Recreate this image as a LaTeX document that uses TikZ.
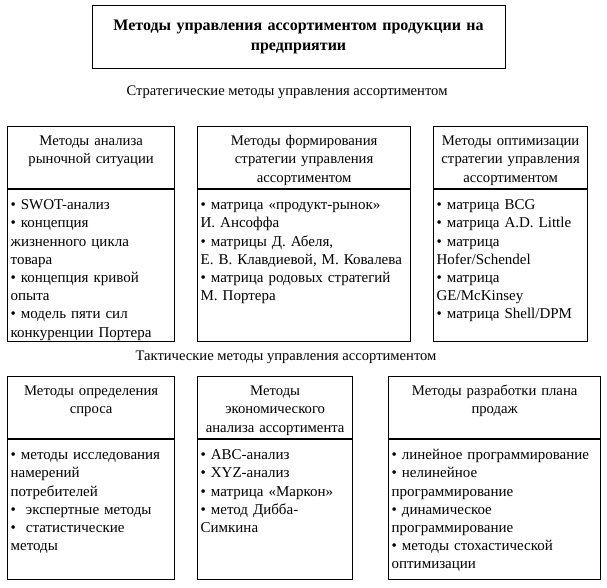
\documentclass[tikz,border=0pt]{standalone}
\usepackage{fontspec}
\setmainfont{Liberation Serif}
\usetikzlibrary{positioning}

\begin{document}
\begin{tikzpicture}[x=1pt, y=-1pt,
        headbox/.style={font=\fontsize{14.7}{18.3}\selectfont, draw, line width=1.3pt, align=center,
            anchor=north west, inner xsep=3pt, inner ysep=6pt, text height=13pt, text depth=37pt,
            text width=#1},
        bodybox/.style={font=\fontsize{15}{18.2}\selectfont, draw, line width=0.6pt, align=left,
            anchor=north, inner xsep=3pt, inner ysep=6pt, text height=14pt, text width=#1},
        rowlabel/.style={font=\fontsize{14.6}{18}\selectfont}]
        \useasboundingbox (0,0) rectangle (607,587);
        %% title
        \node[draw, line width=1pt, minimum width=413pt, minimum height=63pt, align=center,
            text width=405pt, font=\fontsize{16}{20}\selectfont\bfseries] (titlebox) at (298.5,36.5)
            {Методы управления ассортиментом продукции на\\предприятии};
        %% row labels
        \node[rowlabel] (stratlabel) at (287,92) {Стратегические методы управления ассортиментом};
        \node[rowlabel] (tactlabel) at (286,357) {Тактические методы управления ассортиментом};
        %% strategic methods
        \node[headbox=161pt] (markethead) at (7,126) {Методы анализа\\рыночной ситуации};
        \node[bodybox=161pt, text depth=126pt, below=0pt of markethead] (marketbody)
            {• SWOT-анализ\\• концепция\\жизненного цикла\\товара\\• концепция кривой\\опыта\\• модель пяти сил\\конкуренции Портера};
        \node[headbox=207pt] (formhead) at (197,126) {Методы формирования\\стратегии управления\\ассортиментом};
        \node[bodybox=207pt, text depth=126pt, below=0pt of formhead] (formbody)
            {• матрица «продукт-рынок»\\И. Ансоффа\\• матрицы Д. Абеля,\\Е. В. Клавдиевой, М. Ковалева\\• матрица родовых стратегий\\М. Портера};
        \node[headbox=148pt] (optimhead) at (433,126) {Методы оптимизации\\стратегии управления\\ассортиментом};
        \node[bodybox=148pt, text depth=126pt, below=0pt of optimhead] (optimbody)
            {• матрица BCG\\• матрица A.D. Little\\• матрица\\Hofer/Schendel\\• матрица\\GE/McKinsey\\• матрица Shell/DPM};
        %% tactical methods
        \node[headbox=161pt] (demandhead) at (7,376) {Методы определения\\спроса};
        \node[bodybox=161pt, text depth=114pt, below=0pt of demandhead] (demandbody)
            {• методы исследования\\намерений\\потребителей\\•\ \ экспертные методы\\•\ \ статистические\\методы};
        \node[headbox=149pt] (econhead) at (197,376) {Методы\\экономического\\анализа ассортимента};
        \node[bodybox=149pt, text depth=114pt, below=0pt of econhead] (econbody)
            {• ABC-анализ\\• XYZ-анализ\\• матрица «Маркон»\\• метод Дибба-\\Симкина};
        \node[headbox=206pt] (planhead) at (388,376) {Методы разработки плана\\продаж};
        \node[bodybox=206pt, text depth=114pt, below=0pt of planhead] (planbody)
            {• линейное программирование\\• нелинейное\\программирование\\• динамическое\\программирование\\• методы стохастической\\оптимизации};
    \end{tikzpicture}
\end{document}
